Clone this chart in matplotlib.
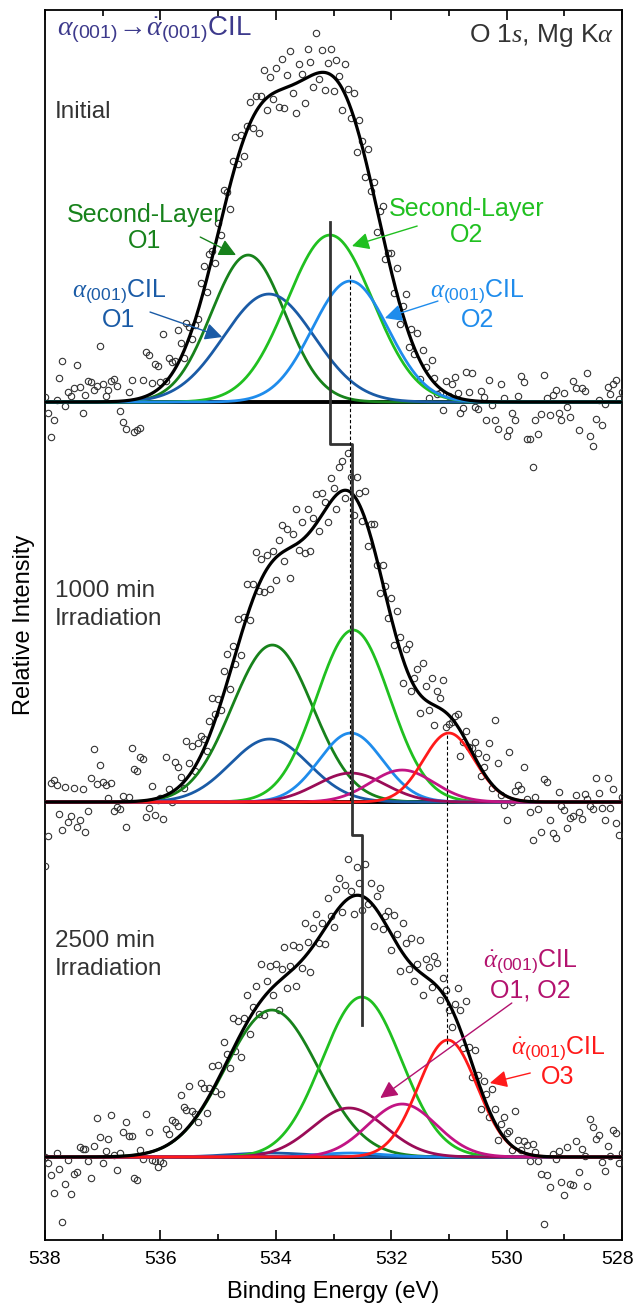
import numpy as np
import matplotlib.pyplot as plt
from matplotlib.transforms import ScaledTranslation

plt.rcParams['font.family'] = ['Liberation Sans', 'DejaVu Sans']
plt.rcParams['mathtext.fontset'] = 'custom'
plt.rcParams['mathtext.rm'] = 'Liberation Sans'
plt.rcParams['mathtext.it'] = 'Liberation Serif:italic'
plt.rcParams['mathtext.sf'] = 'Liberation Sans'

# measured binding energies (eV), 538 -> 528 in 0.05 eV steps
energy = np.round(np.linspace(538, 528, 201), 2)

# fitted components: name -> (centre eV, height, fwhm eV)
peaks_initial = {
    'sl_o1': (534.48, 147, 1.50),
    'cil_o1': (534.12, 108, 1.85),
    'sl_o2': (533.06, 167, 1.75),
    'cil_o2': (532.71, 121, 1.55),
}
peaks_1000 = {
    'sl_o1': (534.06, 157, 1.65),
    'cil_o1': (534.11, 63, 1.60),
    'sl_o2': (532.66, 172, 1.50),
    'cil_o2': (532.70, 69, 1.30),
    'dcil_o1': (532.70, 29, 1.40),
    'dcil_o2': (531.81, 32, 1.30),
    'dcil_o3': (531.00, 69, 1.05),
}
peaks_2500 = {
    'sl_o1': (534.07, 147, 1.90),
    'cil_o1': (534.10, 4, 1.60),
    'sl_o2': (532.51, 160, 1.62),
    'cil_o2': (532.70, 4, 1.30),
    'dcil_o1': (532.73, 49, 1.50),
    'dcil_o2': (531.81, 53, 1.40),
    'dcil_o3': (531.02, 117, 1.20),
}

# measured points minus the fit envelope (same units), 538 -> 528
res_initial = [
    5, -11, -35, -18, 2, 24, 41, -4, 10, 6, 14, 37, 15, -11, 7, 21, 20, 12, 16, 56,
    18, 6, 12, 21, 23, 15, -10, -21, -28, 8, 20, -33, -31, -30, 17, 44, 40, 10, 28, 24,
    5, 51, 0, 20, 12, 8, 34, 15, -6, 22, 10, -10, -5, -8, 18, 25, -12, 14, 6, -18,
    10, -14, 20, 6, -22, 15, 28, -8, 12, -18, 4, 22, -10, 16, -25, 8, 30, -12, 18, -6,
    24, -16, 30, -20, 12, 35, -8, -30, 18, 6, -24, 28, 14, -12, 40, -6, 22, -18, 10, 26,
    -14, 20, 8, -22, 30, 12, -10, 24, -26, 16, 6, -18, 22, -8, 14, -24, 10, 28, -12, 6,
    18, -10, 26, -20, 8, 30, -14, 12, -6, 22, -18, 16, 4, -22, 20, 5, -8, -4, -19, 12,
    -2, 12, 20, 5, -14, -9, 28, 8, 28, -6, -8, 10, 5, -18, 22, -3, -18, -27, 18, 4,
    -34, -28, -11, -18, 6, 26, 20, -37, -37, -65, -18, -32, -12, 27, 4, -13, 7, 12, -11, -18,
    9, -5, -15, 21, 14, -28, 14, 11, 29, -34, -44, -17, 2, -23, -2, 15, 8, 18, 22, 3,
    10,
]
res_1000 = [
    -64, -34, 19, 22, 17, -12, -28, 15, -20, -14, 14, -25, -18, 13, -30, -9, 24, 53, 18, 37,
    20, 17, 4, 19, -9, -5, -7, 6, -25, 5, 54, 32, 30, 44, 42, -17, -8, 13, -16, -2,
    -1, -23, 38, 5, -10, 28, 21, 8, -6, 38, 12, 25, -5, 18, 20, 10, -8, 15, 30, 6,
    12, -8, 22, 30, -15, 18, -10, 25, -20, 8, 32, -12, 16, 40, -6, 20, -18, 14, -25, 10,
    -22, 15, 28, -10, 20, -30, 12, 35, -8, 18, -15, 26, -20, 10, 30, -12, 22, 8, -16, 24,
    10, -14, 25, 30, -8, 38, 15, -20, 22, 12, -10, 28, -18, 14, 24, -6, -22, 18, 8, -12,
    20, -16, 28, 12, -24, 18, 30, -10, 8, 22, -18, 35, 14, -8, 26, -20, 16, 10, 30, -14,
    -9, -4, 6, 12, -25, -6, 10, -1, 4, 15, 10, -8, 6, 20, 38, -3, 68, 27, -2, -10,
    -24, 46, -3, 8, 15, 12, 34, 2, -10, -38, 5, -7, -30, 23, 20, -18, -31, -36, 10, -4,
    -8, -26, -16, -14, 7, -10, -17, 8, 3, -4, -7, 24, 9, -6, -18, 24, -6, 13, -21, -33,
    5,
]
res_2500 = [
    0, -6, -18, -36, 4, -12, -65, -27, -3, -37, -17, -15, 10, 8, 8, -4, -21, 11, 39, 20,
    -6, 6, 18, 42, 2, -14, 3, 24, 34, 20, 19, -23, -25, 4, -5, 39, 20, -8, -10, -17,
    -12, -16, 17, 10, 22, 18, 12, 40, 25, 19, 40, 11, 5, -8, 27, 18, -12, 8, 24, -6,
    14, -20, 26, 8, -12, 32, -6, 18, -24, 10, 28, -16, 6, 22, -10, 36, -18, 12, 24, -8,
    20, -28, 10, 30, -14, 6, 24, -20, 16, -8, 34, 12, -22, 18, 28, -6, 10, -16, 26, 4,
    -12, 22, 30, -8, 16, 40, 6, -18, 28, 12, -14, 34, -4, 20, -20, 14, 26, -10, 8, 18,
    -16, 24, 10, -22, 30, 14, -8, 26, -14, 6, 32, -20, 18, 12, -6, 28, 24, -10, 16, 8,
    -7, -18, 12, 35, 20, -10, 45, 8, -14, 22, 5, -20, 16, 10, -6, 28, 14, -12, 9, 20,
    8, 13, -4, 37, 10, 2, 12, 9, -6, 11, 4, -5, -18, -68, -18, -30, 3, -2, 6, -25,
    -38, 10, -27, -28, 16, -15, 8, 1, -29, 38, 30, 18, 22, -5, -14, 11, 1, 27, 24, -6,
    4,
]

colors = {
    'sl_o1': '#17821b', 'cil_o1': '#1a5ba6', 'sl_o2': '#20c020',
    'cil_o2': '#1f8cec', 'dcil_o1': '#9a0c57', 'dcil_o2': '#c21484',
    'dcil_o3': '#ff1a1a',
}


def gauss(x, c, h, fwhm):
    return h * np.exp(-4 * np.log(2) * (x - c) ** 2 / fwhm ** 2)


fig = plt.figure(figsize=(6.36, 13.05), dpi=100)
ax = fig.add_axes([0.0708, 0.0498, 0.9072, 0.9425])

xf = np.linspace(538, 528, 1001)
spectra = [(peaks_initial, res_initial, 838),
           (peaks_1000, res_1000, 438),
           (peaks_2500, res_2500, 83)]

for peaks, res, off in spectra:
    ax.axhline(off, color='black', lw=2.8, zorder=2)
    env_f = np.zeros_like(xf)
    env_pts = np.zeros_like(energy)
    for name, (c, h, w) in peaks.items():
        comp = gauss(xf, c, h, w)
        env_f += comp
        env_pts += gauss(energy, c, h, w)
        ax.plot(xf, off + comp, color=colors[name], lw=2.0, zorder=4)
    ax.plot(xf, off + env_f, color='black', lw=2.3, zorder=5)
    ax.plot(energy, off + env_pts + np.array(res), 'o', mfc='none', mec='#333333',
            mew=0.8, ms=4.6, zorder=3)

# peak-shift guide and dashed markers
ax.plot([533.06, 533.06, 532.68, 532.68, 532.51, 532.51],
        [1018, 796, 796, 405, 405, 215], color='#333333', lw=2.0, zorder=6)
ax.plot([532.71, 532.71], [965, 438], color='black', lw=0.8, ls=(0, (3, 2)), zorder=6)
ax.plot([531.03, 531.03], [505, 195], color='black', lw=0.8, ls=(0, (3, 2)), zorder=6)

ax.set_xlim(538, 528)
ax.set_ylim(0, 1230)
ax.set_xticks([538, 536, 534, 532, 530, 528])
ax.set_xticks(np.arange(528, 539, 1), minor=True)
ax.set_yticks([])
ax.tick_params(axis='x', which='both', direction='in', top=True, labelsize=14, pad=8)
ax.tick_params(axis='x', which='major', length=7, width=1.2)
ax.tick_params(axis='x', which='minor', length=4, width=1.2)
for sp in ax.spines.values():
    sp.set_linewidth(1.3)
ax.set_xlabel('Binding Energy (eV)', fontsize=17, labelpad=9)
ax.set_ylabel('Relative Intensity', fontsize=17, labelpad=7)

# keep the last tick label inside the figure edge
last = ax.xaxis.get_major_ticks()[-1].label1
last.set_transform(last.get_transform() + ScaledTranslation(-0.04, 0, fig.dpi_scale_trans))

dark = '#333333'
ax.text(537.79, 1210, r'$\alpha_{\mathrm{(001)}}\!\rightarrow\!\dot{\alpha}_{\mathrm{(001)}}$CIL',
        color='#3d3a8c', fontsize=20, va='center', ha='left')
ax.text(528.14, 1205, r'O 1$s$, Mg K$\alpha$', color=dark, fontsize=19, va='center', ha='right')
ax.text(537.83, 1128, 'Initial', color=dark, fontsize=17.5, va='center', ha='left')
ax.text(537.83, 635, '1000 min\nIrradiation', color=dark, fontsize=17.5, va='center',
        ha='left', linespacing=1.3)
ax.text(537.83, 285, '2500 min\nIrradiation', color=dark, fontsize=17.5, va='center',
        ha='left', linespacing=1.3)


def label(txt, xy_text, xy_arrow_from, xy_arrow_to, col):
    ax.text(xy_text[0], xy_text[1], txt, color=col, fontsize=18, ha='center',
            va='center', linespacing=1.1, zorder=7)
    ax.annotate('', xy=xy_arrow_to, xytext=xy_arrow_from,
                arrowprops=dict(arrowstyle='-|>', color=col, lw=1.0, mutation_scale=26,
                                shrinkA=0, shrinkB=0), zorder=7)


cil = r'$\alpha_{\mathrm{(001)}}$CIL'
dcil = r'$\dot{\alpha}_{\mathrm{(001)}}$CIL'
label('Second-Layer\nO1', (536.27, 1012), (535.31, 1003), (534.69, 985), colors['sl_o1'])
label(cil + '\nO1', (536.72, 935), (536.18, 928), (534.93, 903), colors['cil_o1'])
label('Second-Layer\nO2', (530.69, 1018), (531.55, 1014), (532.68, 994), colors['sl_o2'])
label(cil + '\nO2', (530.50, 935), (531.19, 939), (532.11, 922), colors['cil_o2'])
label(dcil + '\nO1, O2', (529.59, 265), (529.91, 237), (532.19, 142), '#b3126e')
label(dcil + '\nO3', (529.11, 178), (529.59, 167), (530.29, 157), '#ff1a1a')

fig.savefig('out.png', dpi=100)
